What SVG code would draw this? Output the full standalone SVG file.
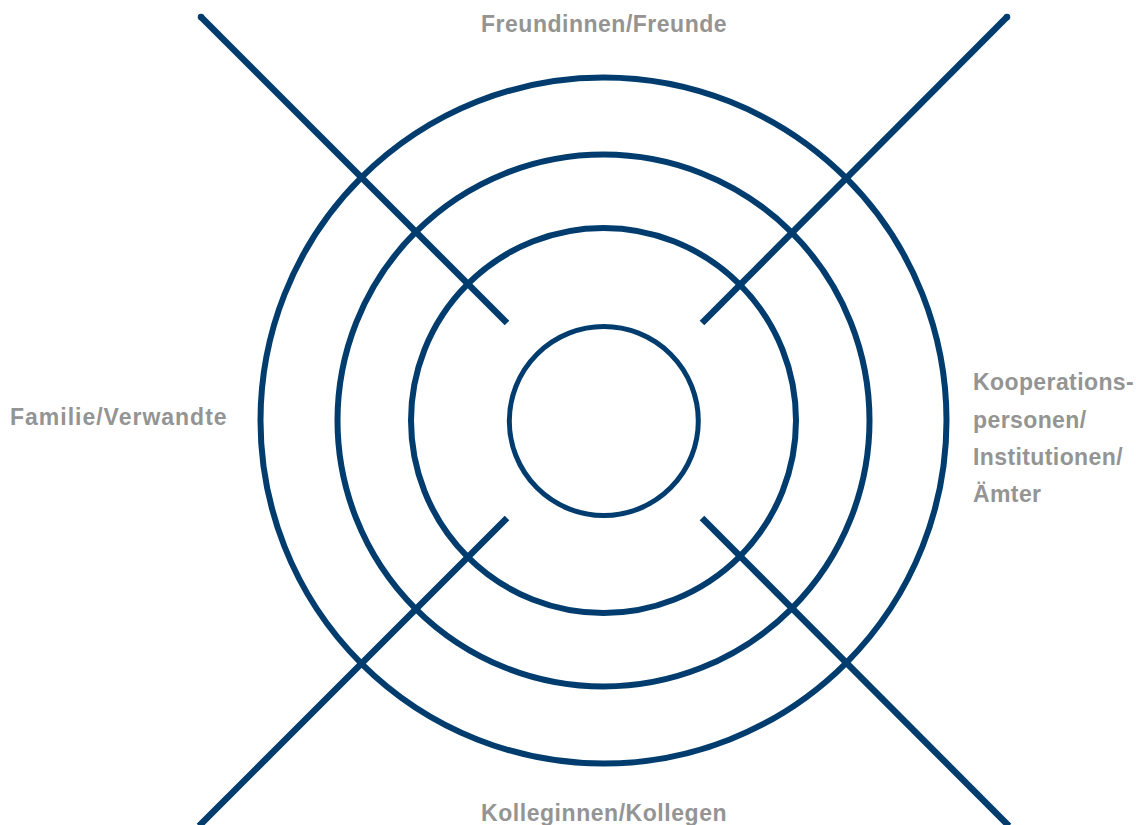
<svg xmlns="http://www.w3.org/2000/svg" width="1136" height="825" viewBox="0 0 1136 825">
<style>
.ring{fill:none;stroke:#003d6e;stroke-width:6}
.spoke{stroke:#003d6e;stroke-width:6.5;stroke-linecap:butt}
.lbl{font-family:"Liberation Sans",Arial,sans-serif;font-weight:bold;font-size:23px;fill:#949494;letter-spacing:0.4px}
</style>
<rect width="1136" height="825" fill="#ffffff"/>
<g id="connectors">
<path class="spoke" d="M201,17 L507,323"/>
<path class="spoke" d="M1007,17 L702,323"/>
<path class="spoke" d="M507,518 L199,826"/>
<path class="spoke" d="M702,518 L1009,826"/>
<circle cx="201" cy="17" r="3.25" fill="#003d6e"/>
<circle cx="1007" cy="17" r="3.25" fill="#003d6e"/>
</g>
<g id="ring-outer"><circle class="ring" cx="603.5" cy="420.5" r="343"/></g>
<g id="ring-2"><circle class="ring" cx="603.5" cy="420.5" r="266"/></g>
<g id="ring-3"><circle class="ring" cx="603.5" cy="420.5" r="192.5"/></g>
<g id="ring-inner"><circle class="ring" style="stroke-width:5" cx="603.8" cy="421" r="94.5"/></g>
<g id="label-top"><text class="lbl" x="481" y="32" textLength="246" lengthAdjust="spacing">Freundinnen/Freunde</text></g>
<g id="label-left"><text class="lbl" x="10" y="425" textLength="217" lengthAdjust="spacing">Familie/Verwandte</text></g>
<g id="label-bottom"><text class="lbl" x="481" y="821" textLength="246" lengthAdjust="spacing">Kolleginnen/Kollegen</text></g>
<g id="label-right">
<text class="lbl" x="973" y="390">Kooperations-</text>
<text class="lbl" x="973" y="428">personen/</text>
<text class="lbl" x="973" y="465">Institutionen/</text>
<text class="lbl" x="973" y="502">Ämter</text>
</g>
</svg>
